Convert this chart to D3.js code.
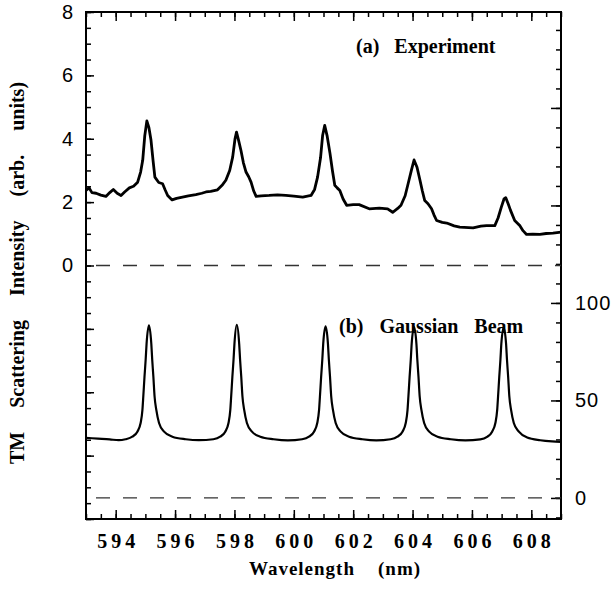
<!DOCTYPE html>
<html>
<head>
<meta charset="utf-8">
<script src="https://cdn.jsdelivr.net/npm/d3@7"></script>
<style>
  body { margin: 0; background: #fff; }
  svg { display: block; }
</style>
</head>
<body>
<div id="chart"></div>
<script>
// Experiment (a): wavelength (nm) vs intensity (left axis, arb. units)
const expWavelength = [
  593.00, 593.10, 593.20, 593.34, 593.50, 593.67, 593.80, 593.92, 594.05, 594.18,
  594.30, 594.46, 594.60, 594.74, 594.84, 594.91, 594.98, 595.05, 595.12, 595.19,
  595.26, 595.32, 595.45, 595.58, 595.66, 595.75, 595.90, 596.05, 596.25, 596.45,
  596.70, 596.90, 597.04, 597.20, 597.43, 597.60, 597.71, 597.84, 597.94, 598.02,
  598.07, 598.14, 598.22, 598.30, 598.39, 598.48, 598.56, 598.65, 598.73, 598.90,
  599.17, 599.45, 599.73, 600.00, 600.30, 600.58, 600.70, 600.80, 600.90, 600.97,
  601.04, 601.12, 601.22, 601.30, 601.38, 601.46, 601.55, 601.66, 601.78, 602.00,
  602.20, 602.54, 602.88, 603.16, 603.33, 603.50, 603.61, 603.75, 603.85, 603.96,
  604.05, 604.15, 604.25, 604.33, 604.41, 604.52, 604.64, 604.72, 604.81, 605.00,
  605.15, 605.40, 605.59, 606.04, 606.30, 606.49, 606.77, 606.88, 606.99, 607.08,
  607.14, 607.22, 607.30, 607.44, 607.55, 607.61, 607.72, 607.84, 608.05, 608.29,
  608.50, 608.73, 609.00
];
const expIntensity = [
  2.37, 2.45, 2.30, 2.28, 2.22, 2.18, 2.30, 2.40, 2.28, 2.21,
  2.32, 2.45, 2.50, 2.63, 2.95, 3.32, 4.10, 4.56, 4.35, 3.95,
  3.30, 2.79, 2.62, 2.58, 2.40, 2.21, 2.07, 2.12, 2.16, 2.20,
  2.24, 2.28, 2.32, 2.34, 2.39, 2.55, 2.69, 3.00, 3.42, 4.00,
  4.21, 3.95, 3.63, 3.25, 2.95, 2.80, 2.63, 2.35, 2.18, 2.20,
  2.21, 2.23, 2.21, 2.19, 2.16, 2.21, 2.40, 2.79, 3.40, 4.10,
  4.42, 4.10, 3.53, 3.00, 2.53, 2.45, 2.37, 2.10, 1.90, 1.92,
  1.92, 1.79, 1.81, 1.79, 1.68, 1.80, 1.90, 2.20, 2.58, 3.00,
  3.33, 3.10, 2.69, 2.35, 2.05, 1.95, 1.79, 1.60, 1.42, 1.36,
  1.34, 1.25, 1.21, 1.19, 1.24, 1.26, 1.26, 1.50, 1.84, 2.10,
  2.14, 1.95, 1.74, 1.42, 1.32, 1.26, 1.10, 0.98, 0.99, 0.98,
  1.01, 1.02, 1.05
];

// Gaussian beam (b): wavelength (nm) vs intensity (right axis)
const beamWavelength = [
  593.00, 593.40, 593.80, 594.10, 594.33, 594.56, 594.73, 594.84, 594.90, 594.93,
  594.97, 595.01, 595.04, 595.12, 595.20, 595.23, 595.27, 595.31, 595.37, 595.46,
  595.63, 595.91, 596.36, 596.80,
  597.29, 597.52, 597.69, 597.80, 597.86, 597.89, 597.93, 597.97, 598.00, 598.08,
  598.16, 598.19, 598.23, 598.27, 598.33, 598.42, 598.59, 598.87, 599.32, 599.80,
  600.28, 600.51, 600.68, 600.79, 600.85, 600.88, 600.92, 600.96, 600.99, 601.07,
  601.15, 601.18, 601.22, 601.26, 601.32, 601.41, 601.58, 601.86, 602.31, 602.78,
  603.26, 603.49, 603.66, 603.77, 603.83, 603.86, 603.90, 603.94, 603.97, 604.05,
  604.13, 604.16, 604.20, 604.24, 604.30, 604.39, 604.56, 604.84, 605.29, 605.78,
  606.28, 606.51, 606.68, 606.79, 606.85, 606.88, 606.92, 606.96, 606.99, 607.07,
  607.15, 607.18, 607.22, 607.26, 607.32, 607.41, 607.58, 607.86, 608.30, 608.70,
  609.00
];
const beamIntensity = [
  30.8, 30.4, 30.0, 29.6, 30.1, 31.4, 34.0, 38.4, 45.0, 52.0,
  62.0, 71.0, 79.0, 88.5, 79.0, 71.0, 62.0, 52.0, 45.0, 38.4,
  34.0, 31.4, 30.1, 29.6,
  30.1, 31.4, 34.0, 38.4, 45.0, 52.0, 62.0, 71.0, 79.0, 88.8,
  79.0, 71.0, 62.0, 52.0, 45.0, 38.4, 34.0, 31.4, 30.1, 29.5,
  30.1, 31.4, 34.0, 38.4, 45.0, 52.0, 62.0, 71.0, 79.0, 88.0,
  79.0, 71.0, 62.0, 52.0, 45.0, 38.4, 34.0, 31.4, 30.1, 29.5,
  30.1, 31.4, 34.0, 38.4, 45.0, 52.0, 62.0, 71.0, 79.0, 87.6,
  79.0, 71.0, 62.0, 52.0, 45.0, 38.4, 34.0, 31.4, 30.1, 29.5,
  30.0, 31.3, 34.0, 38.4, 45.0, 52.0, 62.0, 71.0, 79.0, 87.4,
  79.0, 71.0, 62.0, 52.0, 45.0, 38.4, 34.0, 31.0, 29.6, 29.0,
  28.8
];

// Tick labels
const xLabels = [594, 596, 598, 600, 602, 604, 606, 608];
const leftLabels = [0, 2, 4, 6, 8];
const rightLabels = [0, 50, 100];

const SERIF = '"Liberation Serif", "Times New Roman", serif';
const SANS = '"Liberation Sans", Arial, sans-serif';

const width = 612, height = 593;
const L = 86, R = 561, T = 12, B = 519;

const svg = d3.select('#chart').append('svg')
  .attr('width', width)
  .attr('height', height);

const x = d3.scaleLinear().domain([593, 609]).range([L, R]);
const yLeft = d3.scaleLinear().domain([-8, 8]).range([B, T]);
const yRight = d3.scaleLinear().domain([-10.8, 249.2]).range([B, T]);

// ── Axes ───────────────────────────────────────────────
function styleAxis(sel) {
  sel.select('.domain').remove();
  sel.selectAll('.tick line').attr('stroke', '#000').attr('stroke-width', 1.5);
}

const xMinor = d3.range(593, 609.01, 0.5);
const xMajor = d3.range(594, 608.01, 2);

// bottom
svg.append('g').attr('transform', `translate(0,${B})`)
  .call(d3.axisBottom(x).tickValues(xMinor).tickSize(-5).tickFormat(''))
  .call(styleAxis);
svg.append('g').attr('transform', `translate(0,${B})`)
  .call(d3.axisBottom(x).tickValues(xMajor).tickSize(-9).tickPadding(15)
    .tickFormat(d => xLabels.includes(d) ? d : ''))
  .call(styleAxis)
  .attr('font-family', SERIF)
  .attr('font-size', 20)
  .attr('font-weight', 'bold')
  .call(g => g.selectAll('text')
    .attr('fill', '#000')
    .attr('dx', 2)
    .style('letter-spacing', '4px'));

// top
svg.append('g').attr('transform', `translate(0,${T})`)
  .call(d3.axisTop(x).tickValues(xMinor).tickSize(-5).tickFormat(''))
  .call(styleAxis);
svg.append('g').attr('transform', `translate(0,${T})`)
  .call(d3.axisTop(x).tickValues(xMajor).tickSize(-9).tickFormat(''))
  .call(styleAxis);

// left
svg.append('g').attr('transform', `translate(${L},0)`)
  .call(d3.axisLeft(yLeft).tickValues(d3.range(-8, 8.01, 0.5)).tickSize(-5).tickFormat(''))
  .call(styleAxis);
svg.append('g').attr('transform', `translate(${L},0)`)
  .call(d3.axisLeft(yLeft).tickValues(d3.range(-8, 8.01, 2)).tickSize(-8).tickPadding(13)
    .tickFormat(d => leftLabels.includes(d) ? d : ''))
  .call(styleAxis)
  .attr('font-family', SANS)
  .attr('font-size', 20)
  .call(g => g.selectAll('text').attr('fill', '#000'));

// right
svg.append('g').attr('transform', `translate(${R},0)`)
  .call(d3.axisRight(yRight).tickValues(d3.range(-10, 241, 10)).tickSize(-5).tickFormat(''))
  .call(styleAxis);
svg.append('g').attr('transform', `translate(${R},0)`)
  .call(d3.axisRight(yRight).tickValues(d3.range(0, 201, 50)).tickSize(-10).tickPadding(14)
    .tickFormat(d => rightLabels.includes(d) ? d : ''))
  .call(styleAxis)
  .attr('font-family', SANS)
  .attr('font-size', 20)
  .call(g => g.selectAll('text')
    .attr('fill', '#000')
    .style('letter-spacing', '1px'));

// frame
svg.append('rect')
  .attr('x', L).attr('y', T)
  .attr('width', R - L).attr('height', B - T)
  .attr('fill', 'none')
  .attr('stroke', '#000')
  .attr('stroke-width', 2);

// zero reference lines (dashed)
svg.append('line')
  .attr('x1', L + 10).attr('x2', R)
  .attr('y1', yLeft(0)).attr('y2', yLeft(0))
  .attr('stroke', '#333').attr('stroke-width', 1.3)
  .attr('stroke-dasharray', '14,13');
svg.append('line')
  .attr('x1', L + 10).attr('x2', R)
  .attr('y1', yRight(0)).attr('y2', yRight(0))
  .attr('stroke', '#333').attr('stroke-width', 1.3)
  .attr('stroke-dasharray', '14,13');

// ── Curves ─────────────────────────────────────────────
const expLine = d3.line()
  .x((d, i) => x(expWavelength[i]))
  .y(d => yLeft(d));

svg.append('path')
  .datum(expIntensity)
  .attr('d', expLine)
  .attr('fill', 'none')
  .attr('stroke', '#000')
  .attr('stroke-width', 2.8)
  .attr('stroke-linejoin', 'round');

const beamLine = d3.line()
  .x((d, i) => x(beamWavelength[i]))
  .y(d => yRight(d))
  .curve(d3.curveMonotoneX);

svg.append('path')
  .datum(beamIntensity)
  .attr('d', beamLine)
  .attr('fill', 'none')
  .attr('stroke', '#000')
  .attr('stroke-width', 2.2);

// ── Labels ─────────────────────────────────────────────
function serifText(tx, ty, size, str) {
  return svg.append('text')
    .attr('x', tx).attr('y', ty)
    .attr('font-family', SERIF)
    .attr('font-weight', 'bold')
    .attr('font-size', size)
    .style('white-space', 'pre')
    .text(str);
}

serifText(356, 53, 20, '(a)   Experiment');
serifText(339, 333, 20, '(b)  Gaussian  Beam')
  .style('word-spacing', '3px');

serifText(335, 575, 19, 'Wavelength    (nm)')
  .attr('text-anchor', 'middle')
  .style('letter-spacing', '1px');

serifText(0, 0, 20, 'TM Scattering Intensity (arb. units)')
  .attr('transform', 'translate(24,273) rotate(-90)')
  .attr('text-anchor', 'middle')
  .style('word-spacing', '19px');
</script>
</body>
</html>
